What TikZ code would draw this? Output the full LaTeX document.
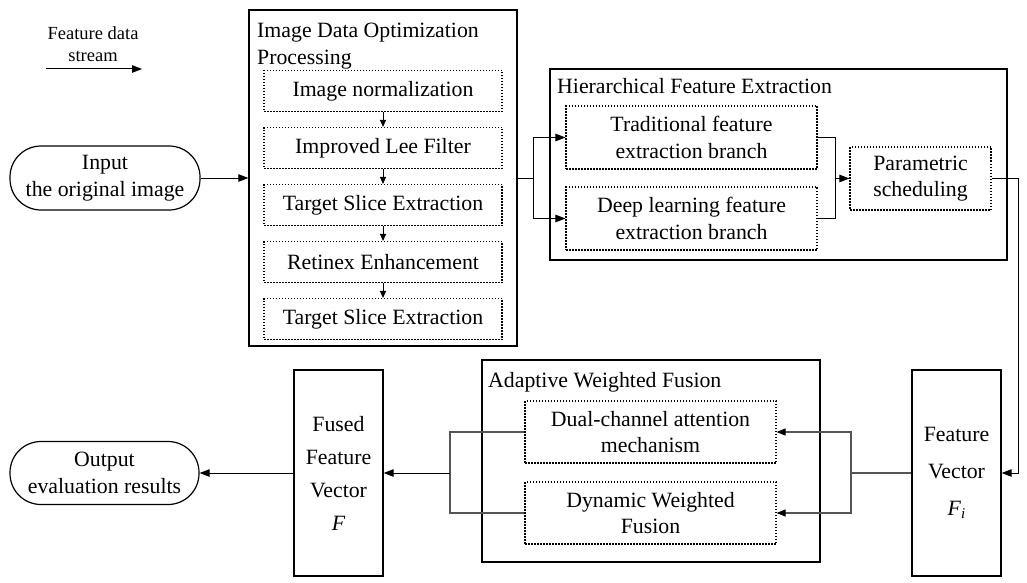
\documentclass[tikz,border=0pt]{standalone}
\usepackage{fontspec}
\setmainfont{Liberation Serif}
\usetikzlibrary{arrows.meta,calc}
\definecolor{linegray}{RGB}{85,85,85}
\begin{document}
\begin{tikzpicture}[x=1pt,y=-1pt,
  every node/.style={font=\fontsize{21.8}{26.5}\selectfont},
  outer/.style={draw, line width=1.3pt, inner sep=0pt, align=center},
  dotbox/.style={draw, line width=1.1pt, dash pattern=on 1.5pt off 1.5pt, align=center, inner sep=0pt},
  term/.style={draw, line width=1.2pt, rounded corners=31pt, align=center, inner sep=0pt},
  conn/.style={line width=1pt},
  arr/.style={conn, -{Triangle[length=10pt,width=7.5pt]}},
  sarr/.style={conn, -{Triangle[length=7pt,width=6pt]}},
  gconn/.style={line width=1.1pt, draw=linegray},
  garr/.style={gconn, -{Triangle[length=9pt,width=7pt,black]}}
]
\useasboundingbox (0,0) rectangle (1027,583);

% legend
\node[align=center, font=\fontsize{18.5}{22}\selectfont] (leg) at (93,44) {Feature data\\stream};
\coordinate (la) at (46,69);
\coordinate (lb) at (142,69);
\draw[arr] (la) -- (lb);

% input
\node[term, minimum width=190pt, minimum height=64pt] (in) at (105,178) {Input\\the original image};

% image data optimization processing
\node[outer, minimum width=268pt, minimum height=336pt] (img) at (383,178) {};
\node[anchor=north west, inner sep=0pt, align=left] (imgt) at (257,23) {Image Data Optimization\\Processing};
\node[dotbox, minimum width=238pt, minimum height=41pt] (s1) at (383,91) {Image normalization};
\node[dotbox, minimum width=238pt, minimum height=41pt] (s2) at (383,148) {Improved Lee Filter};
\node[dotbox, minimum width=238pt, minimum height=41pt] (s3) at (383,205) {Target Slice Extraction};
\node[dotbox, minimum width=238pt, minimum height=41pt] (s4) at (383,262) {Retinex Enhancement};
\node[dotbox, minimum width=238pt, minimum height=41pt] (s5) at (383,319) {Target Slice Extraction};
\draw[sarr] (s1) -- (s2);
\draw[sarr] (s2) -- (s3);
\draw[sarr] (s3) -- (s4);
\draw[sarr] (s4) -- (s5);
\draw[arr] (in) -- (img);

% hierarchical feature extraction
\node[outer, minimum width=457pt, minimum height=191pt] (hier) at (778.5,164.5) {};
\node[anchor=base west, inner sep=0pt] (hiert) at (557,94) {Hierarchical Feature Extraction};
\node[dotbox, minimum width=251pt, minimum height=63pt] (trad) at (691.5,137.5) {Traditional feature\\extraction branch};
\node[dotbox, minimum width=251pt, minimum height=63pt] (deep) at (691.5,218.5) {Deep learning feature\\extraction branch};
\node[dotbox, minimum width=141pt, minimum height=63pt] (param) at (920.5,178.5) {Parametric\\scheduling};
\coordinate (j1) at (533,178);
\draw[conn] (img.east) -- (j1);
\draw[arr] (j1) |- (trad.west);
\draw[arr] (j1) |- (deep.west);
\coordinate (j2) at (835,178.5);
\draw[conn] (trad.east) -| (j2) |- (deep.east);
\draw[arr] (j2) -- (param.west);

% feature vector
\node[outer, minimum width=89pt, minimum height=206pt, font=\fontsize{21.8}{37}\selectfont] (fv) at (956.5,473) {Feature\\Vector\\\textit{F}\raisebox{-3pt}{\fontsize{15}{15}\selectfont\textit{i}}};
\coordinate (j3) at (1018,473);
\draw[arr] (param.east) -| (j3) -- (fv.east);

% adaptive weighted fusion
\node[outer, minimum width=338pt, minimum height=202pt] (adapt) at (651,461) {};
\node[anchor=base west, inner sep=0pt] (adaptt) at (488,387) {Adaptive Weighted Fusion};
\node[dotbox, minimum width=251pt, minimum height=62pt] (dual) at (650.5,432) {Dual-channel attention\\mechanism};
\node[dotbox, minimum width=251pt, minimum height=62pt] (dyn) at (650.5,513) {Dynamic Weighted\\Fusion};
\coordinate (j4) at (851,473);
\draw[gconn] (fv.west) -- (j4);
\draw[garr] (j4) |- (dual.east);
\draw[garr] (j4) |- (dyn.east);

% fused feature vector
\node[outer, minimum width=89pt, minimum height=206pt, font=\fontsize{21.8}{33}\selectfont] (fused) at (338.5,473) {Fused\\Feature\\Vector\\\textit{F}};
\coordinate (j5) at (450,473);
\draw[gconn] (dual.west) -| (j5) |- (dyn.west);
\draw[arr] (j5) -- (fused.east);

% output
\node[term, minimum width=189pt, minimum height=63pt] (out) at (104.5,473) {Output\\evaluation results};
\draw[arr] (fused.west) -- (out.east);
\end{tikzpicture}
\end{document}
